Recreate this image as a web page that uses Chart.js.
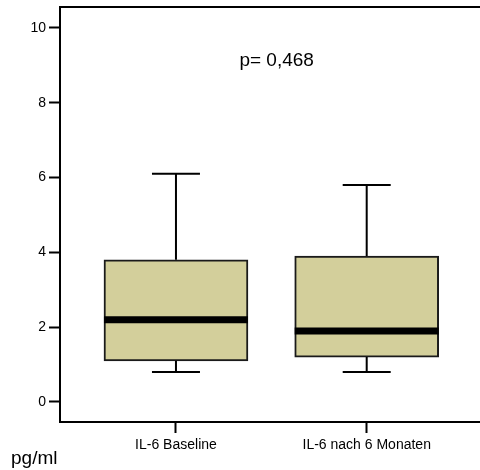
<!DOCTYPE html>
<html>
<head>
<meta charset="utf-8">
<script src="https://cdn.jsdelivr.net/npm/chart.js@4/dist/chart.umd.min.js"></script>
<style>
  html, body { margin: 0; padding: 0; background: #fff; }
  #wrap { width: 480px; height: 470px; }
</style>
</head>
<body>
<div id="wrap"><canvas id="myChart"></canvas></div>
<script>
const categories = ['IL-6 Baseline', 'IL-6 nach 6 Monaten'];
const positions = [1, 2];
const whiskerLow = [0.8, 0.8];
const q1 = [1.1, 1.2];
const median = [2.2, 1.9];
const q3 = [3.8, 3.9];
const whiskerHigh = [6.1, 5.8];
const yTicks = [0, 2, 4, 6, 8, 10];
const pText = 'p= 0,468';
const unitText = 'pg/ml';

const fontFamily = "'Liberation Sans', Arial, Helvetica, sans-serif";
const boxColor = '#D3CF9B';

// whiskers, medians and frame drawn from the scales
const boxExtras = {
    id: 'boxExtras',
    afterDatasetsDraw(chart) {
        const ctx = chart.ctx;
        const x = chart.scales.x;
        const y = chart.scales.y;
        const area = chart.chartArea;
        const meta = chart.getDatasetMeta(0);
        ctx.save();
        ctx.strokeStyle = '#000';
        ctx.lineCap = 'butt';
        positions.forEach((p, i) => {
            const cx = x.getPixelForValue(p);
            const bar = meta.data[i];
            const half = bar.width / 2;
            // whiskers
            ctx.lineWidth = 2;
            ctx.beginPath();
            ctx.moveTo(cx, y.getPixelForValue(q3[i]));
            ctx.lineTo(cx, y.getPixelForValue(whiskerHigh[i]));
            ctx.moveTo(cx, y.getPixelForValue(q1[i]));
            ctx.lineTo(cx, y.getPixelForValue(whiskerLow[i]));
            ctx.moveTo(cx - 24, y.getPixelForValue(whiskerHigh[i]));
            ctx.lineTo(cx + 24, y.getPixelForValue(whiskerHigh[i]));
            ctx.moveTo(cx - 24, y.getPixelForValue(whiskerLow[i]));
            ctx.lineTo(cx + 24, y.getPixelForValue(whiskerLow[i]));
            ctx.stroke();
            // median
            ctx.lineWidth = 7;
            ctx.beginPath();
            ctx.moveTo(cx - half, y.getPixelForValue(median[i]));
            ctx.lineTo(cx + half, y.getPixelForValue(median[i]));
            ctx.stroke();
        });
        // top frame line
        ctx.lineWidth = 2;
        ctx.beginPath();
        ctx.moveTo(area.left - 1, area.top);
        ctx.lineTo(area.right, area.top);
        ctx.stroke();

        // texts
        ctx.fillStyle = '#000';
        ctx.font = '19px ' + fontFamily;
        ctx.textAlign = 'center';
        ctx.textBaseline = 'middle';
        ctx.fillText(pText, x.getPixelForValue(1.528), y.getPixelForValue(9.12));
        ctx.textAlign = 'left';
        ctx.textBaseline = 'alphabetic';
        ctx.font = '19px ' + fontFamily;
        ctx.fillText(unitText, 11, 464);
        ctx.restore();
    }
};

const data = {
    datasets: [{
        data: positions.map((p, i) => ({ x: p, y: [q1[i], q3[i]] })),
        backgroundColor: boxColor,
        borderColor: '#1a1a1a',
        borderWidth: 2,
        borderSkipped: false,
        barThickness: 144,
    }],
};

const config = {
    type: 'bar',
    data: data,
    options: {
        responsive: true,
        maintainAspectRatio: false,
        animation: false,
        layout: { padding: { top: 7, right: 0, left: 0, bottom: 0 } },
        plugins: {
            legend: { display: false },
            tooltip: { enabled: false },
        },
        scales: {
            x: {
                type: 'linear',
                offset: false,
                min: 0.392,
                max: 2.594,
                afterBuildTicks: (scale) => {
                    scale.ticks = positions.map(v => ({ value: v }));
                },
                afterFit: (scale) => { scale.height = 48; },
                ticks: {
                    callback: (v) => categories[positions.indexOf(v)],
                    color: '#000',
                    font: { family: fontFamily, size: 14 },
                    padding: 4,
                    maxRotation: 0,
                    autoSkip: false,
                },
                grid: {
                    offset: false,
                    drawOnChartArea: false,
                    drawTicks: true,
                    tickLength: 11,
                    tickColor: '#000',
                    tickWidth: 2,
                },
                border: { color: '#000', width: 2 },
            },
            y: {
                min: -0.535,
                max: 10.56,
                afterBuildTicks: (scale) => {
                    scale.ticks = yTicks.map(v => ({ value: v }));
                },
                afterFit: (scale) => {
                    scale.width = 60;
                    scale.paddingTop = 0;
                    scale.paddingBottom = 0;
                },
                ticks: {
                    color: '#000',
                    font: { family: fontFamily, size: 14 },
                    padding: 3,
                },
                grid: {
                    drawOnChartArea: false,
                    drawTicks: true,
                    tickLength: 11,
                    tickColor: '#000',
                    tickWidth: 2,
                },
                border: { color: '#000', width: 2 },
            }
        }
    },
    plugins: [boxExtras]
};

const myChart = new Chart(
    document.getElementById('myChart'),
    config
);
</script>
</body>
</html>
